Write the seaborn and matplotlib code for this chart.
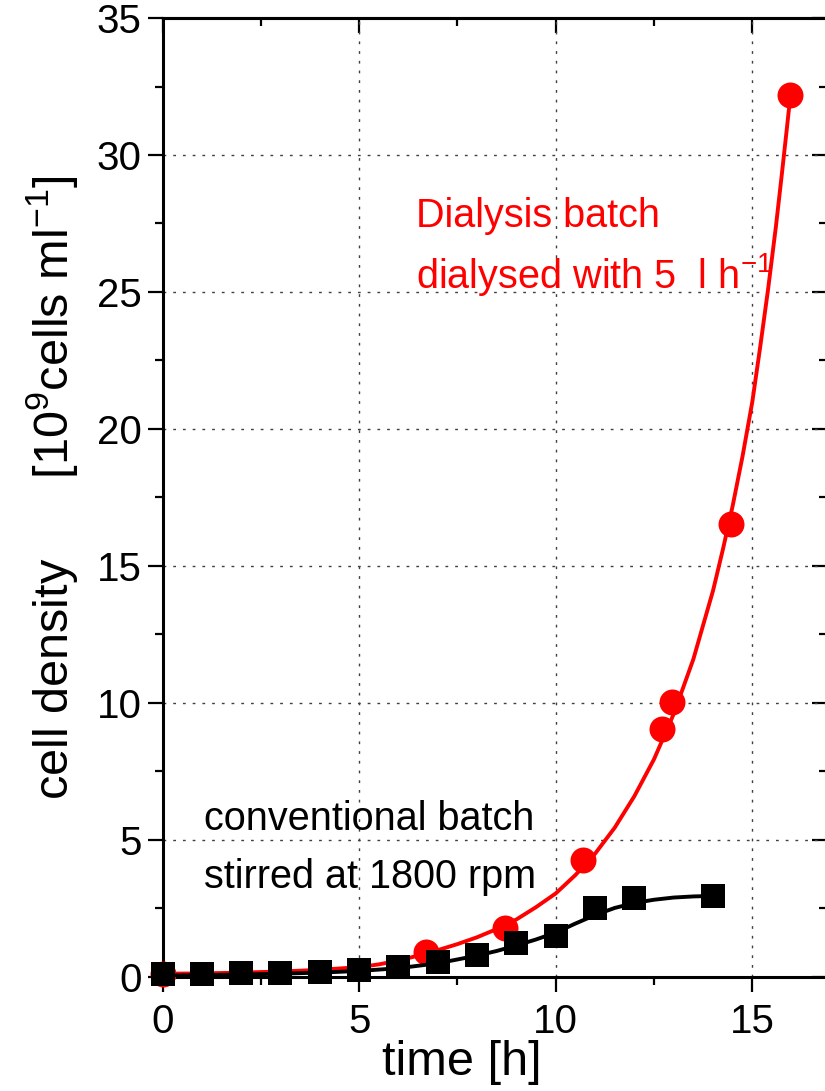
import matplotlib
matplotlib.use("Agg")
import matplotlib.pyplot as plt
from matplotlib.ticker import MultipleLocator
import seaborn as sns

conv_time = [0, 1, 2, 3, 4, 5, 6, 7, 8, 9, 10, 11, 12, 14]
conv_density = [0.1, 0.12, 0.13, 0.16, 0.2, 0.26, 0.35, 0.55, 0.82, 1.25, 1.5, 2.5, 2.9, 2.95]

dial_time = [0, 6.7, 8.7, 10.7, 12.7, 12.95, 14.45, 15.97]
dial_density = [0.12, 0.9, 1.8, 4.27, 9.05, 10.05, 16.55, 32.2]

# fitted curves
conv_fit_time = [0, 1, 2, 3, 4, 5, 6, 7, 8, 8.5, 9, 9.5, 10, 10.5, 11, 11.5, 12, 12.5,
                 13, 13.5, 14]
conv_fit_density = [0.05, 0.07, 0.09, 0.12, 0.16, 0.22, 0.32, 0.5, 0.78, 0.95, 1.15,
                    1.37, 1.62, 1.95, 2.26, 2.52, 2.7, 2.82, 2.9, 2.94, 2.96]

dial_fit_time = [0, 1, 2, 3, 4, 5, 5.5, 6, 6.5, 7, 7.5, 8, 8.5, 9, 9.5, 10, 10.5, 11,
                 11.5, 12, 12.5, 13, 13.5, 14, 14.25, 14.5, 14.75, 15, 15.2, 15.4,
                 15.6, 15.75, 15.88, 15.97]
dial_fit_density = [0.12, 0.13, 0.16, 0.2, 0.26, 0.36, 0.46, 0.6, 0.78, 0.98, 1.2,
                    1.45, 1.75, 2.1, 2.55, 3.05, 3.72, 4.5, 5.45, 6.6, 7.95, 9.6, 11.6,
                    14.1, 15.6, 17.2, 19.0, 21.0, 23.0, 25.1, 27.4, 29.3, 31.0, 32.2]

sns.set_style("white")
plt.rcParams["font.family"] = ["Liberation Sans", "DejaVu Sans"]
plt.rcParams["mathtext.fontset"] = "custom"
plt.rcParams["mathtext.rm"] = "Liberation Sans"
plt.rcParams["mathtext.it"] = "Liberation Sans:italic"
plt.rcParams["mathtext.bf"] = "Liberation Sans:bold"
plt.rcParams["text.color"] = "black"
plt.rcParams["axes.labelcolor"] = "black"
plt.rcParams["axes.edgecolor"] = "black"
plt.rcParams["xtick.color"] = "black"
plt.rcParams["ytick.color"] = "black"

fig = plt.figure(figsize=(8.25, 10.91), dpi=100)
ax = fig.add_axes([0.197, 0.1045, 0.8055, 0.879])

# curves
sns.lineplot(x=dial_fit_time, y=dial_fit_density, ax=ax, color="#ff0000",
             linewidth=2.8, zorder=2)
sns.scatterplot(x=dial_time, y=dial_density, ax=ax, color="#ff0000", marker="o",
                s=350, linewidth=0, zorder=3, clip_on=False)
sns.lineplot(x=conv_fit_time, y=conv_fit_density, ax=ax, color="black",
             linewidth=2.8, zorder=4)
sns.scatterplot(x=conv_time, y=conv_density, ax=ax, color="black", marker="s",
                s=275, linewidth=0, zorder=5, clip_on=False)

ax.set_xlim(0, 16.9)
ax.set_ylim(0, 35)
ax.xaxis.set_major_locator(MultipleLocator(5))
ax.xaxis.set_minor_locator(MultipleLocator(2.5))
ax.yaxis.set_major_locator(MultipleLocator(5))
ax.yaxis.set_minor_locator(MultipleLocator(2.5))

ax.set_axisbelow(True)
ax.grid(which="major", linestyle=(0, (2, 5)), color="0.25", linewidth=1)

for sp in ax.spines.values():
    sp.set_linewidth(2.2)

ax.tick_params(which="both", left=True, bottom=True, top=False, right=False)
ax.tick_params(which="major", direction="out", length=11, width=1.6,
               labelsize=29, colors="black")
ax.tick_params(which="minor", direction="out", length=6, width=1.6, colors="black")
ax.tick_params(axis="x", which="major", pad=8)
ax.tick_params(axis="y", which="major", pad=4)

# inward ticks on top and right
top = ax.secondary_xaxis("top")
top.xaxis.set_major_locator(MultipleLocator(5))
top.xaxis.set_minor_locator(MultipleLocator(2.5))
top.tick_params(which="both", top=True)
top.tick_params(which="major", direction="in", length=11, width=1.6, labeltop=False)
top.tick_params(which="minor", direction="in", length=6, width=1.6)
top.spines["top"].set_linewidth(2.2)

right = ax.secondary_yaxis("right")
right.yaxis.set_major_locator(MultipleLocator(5))
right.yaxis.set_minor_locator(MultipleLocator(2.5))
right.tick_params(which="both", right=True)
right.tick_params(which="major", direction="in", length=11, width=1.6, labelright=False)
right.tick_params(which="minor", direction="in", length=6, width=1.6)
right.spines["right"].set_linewidth(2.2)

ax.set_xlabel("time [h]", fontsize=35)
ax.xaxis.set_label_coords(0.451, -0.066)
ax.set_ylabel("cell density      [10$^{9}$cells ml$^{-1}$]", fontsize=35)
ax.yaxis.set_label_coords(-0.124, 0.51)

# annotations
ax.text(6.45, 27.37, "Dialysis batch", color="#ff0000", fontsize=28.5, va="baseline")
ax.text(6.45, 25.15, "dialysed with 5  l h$^{-1}$", color="#ff0000", fontsize=28.5,
        va="baseline")
ax.text(1.06, 5.36, "conventional batch", color="black", fontsize=28.5, va="baseline")
ax.text(1.06, 3.25, "stirred at 1800 rpm", color="black", fontsize=28.5, va="baseline")

fig.savefig("out.png", dpi=100)
